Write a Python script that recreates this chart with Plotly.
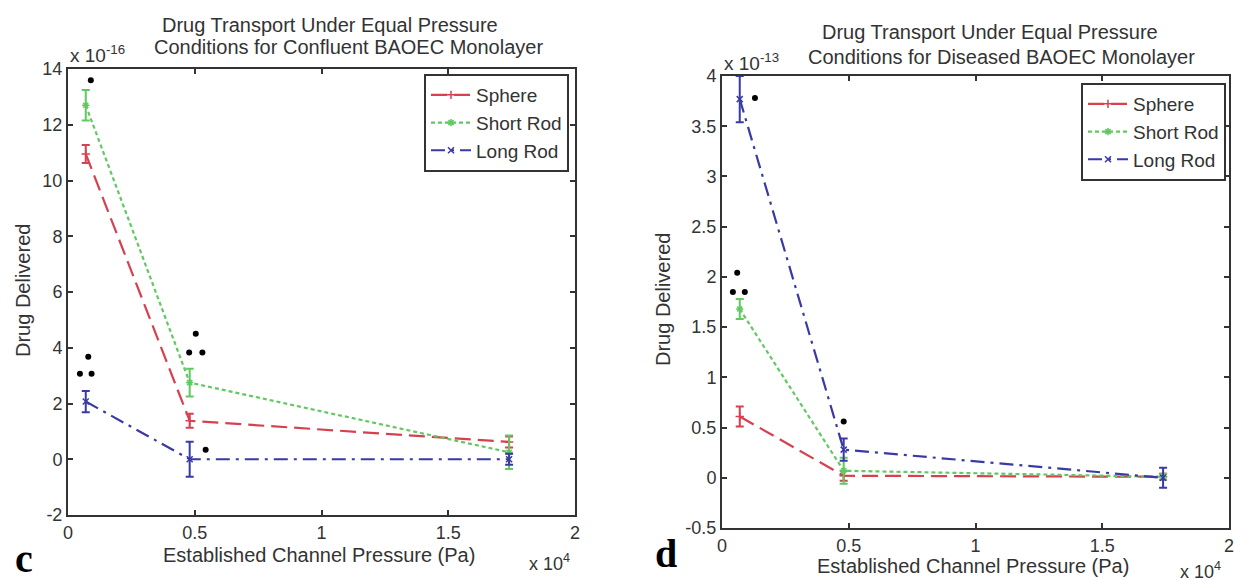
import plotly.graph_objects as go

# pressure (x 10^4 Pa)
pressure = [0.07, 0.48, 1.74]

# confluent monolayer, drug delivered (x 10^-16)
conf_sphere = [10.95, 1.38, 0.62]
conf_sphere_err = [0.32, 0.25, 0.2]
conf_short = [12.7, 2.75, 0.25]
conf_short_err = [0.55, 0.5, 0.6]
conf_long = [2.07, 0.0, 0.0]
conf_long_err = [0.38, 0.63, 0.2]

# diseased monolayer, drug delivered (x 10^-13)
dis_sphere = [0.61, 0.02, 0.01]
dis_sphere_err = [0.1, 0.05, 0.03]
dis_short = [1.68, 0.07, 0.01]
dis_short_err = [0.1, 0.13, 0.03]
dis_long = [3.77, 0.28, 0.0]
dis_long_err = [0.23, 0.11, 0.1]

# significance marks (asterisks)
sig_conf_x = [0.09, 0.047, 0.093, 0.08, 0.478, 0.53, 0.504, 0.543]
sig_conf_y = [13.6, 3.07, 3.07, 3.68, 3.83, 3.83, 4.5, 0.34]
sig_dis_x = [0.13, 0.043, 0.09, 0.06, 0.48]
sig_dis_y = [3.78, 1.85, 1.85, 2.04, 0.56]

x_ticks = [0, 0.5, 1, 1.5, 2]
x_ticktext = ["0", "0.5", "1", "1.5", "2"]
conf_yticks = [-2, 0, 2, 4, 6, 8, 10, 12, 14]
conf_yticktext = ["-2", "0", "2", "4", "6", "8", "10", "12", "14"]
dis_yticks = [-0.5, 0, 0.5, 1, 1.5, 2, 2.5, 3, 3.5, 4]
dis_yticktext = ["-0.5", "0", "0.5", "1", "1.5", "2", "2.5", "3", "3.5", "4"]

COLORS = {"Sphere": "#d6404f", "Short Rod": "#62c862", "Long Rod": "#3a3aa6"}
DASH = {"Sphere": "16px,7px", "Short Rod": "4px,3px", "Long Rod": "14px,6px,3px,6px"}
SYMBOL = {"Sphere": "cross-thin-open", "Short Rod": "asterisk-open", "Long Rod": "x-thin-open"}
FONT = "Liberation Sans, Arial, sans-serif"
INK = "#333333"
W, H = 1235, 579

fig = go.Figure()


def add_series(name, y, err, xa, ya, legend):
    fig.add_trace(go.Scatter(
        name=name, x=pressure, y=y,
        mode="lines+markers",
        line=dict(color=COLORS[name], width=2.2, dash=DASH[name]),
        marker=dict(symbol=SYMBOL[name], size=6, color=COLORS[name],
                    line=dict(color=COLORS[name], width=1.5)),
        error_y=dict(type="data", array=err, color=COLORS[name], thickness=2, width=4),
        xaxis=xa, yaxis=ya, legend=legend,
    ))


add_series("Sphere", conf_sphere, conf_sphere_err, "x", "y", "legend")
add_series("Short Rod", conf_short, conf_short_err, "x", "y", "legend")
add_series("Long Rod", conf_long, conf_long_err, "x", "y", "legend")
add_series("Sphere", dis_sphere, dis_sphere_err, "x2", "y2", "legend2")
add_series("Short Rod", dis_short, dis_short_err, "x2", "y2", "legend2")
add_series("Long Rod", dis_long, dis_long_err, "x2", "y2", "legend2")

fig.add_trace(go.Scatter(x=sig_conf_x, y=sig_conf_y, mode="markers", showlegend=False,
                         marker=dict(color="black", size=6), xaxis="x", yaxis="y"))
fig.add_trace(go.Scatter(x=sig_dis_x, y=sig_dis_y, mode="markers", showlegend=False,
                         marker=dict(color="black", size=6), xaxis="x2", yaxis="y2"))

axis_style = dict(
    showline=True, linecolor=INK, linewidth=2, mirror="ticks",
    ticks="inside", ticklen=5, tickwidth=1.5, tickcolor=INK,
    showgrid=False, zeroline=False, automargin=False,
    tickfont=dict(family=FONT, size=18, color=INK),
)

legend_style = dict(
    bgcolor="white", bordercolor=INK, borderwidth=2,
    font=dict(family=FONT, size=19, color=INK),
    xanchor="right", yanchor="top", itemwidth=40, tracegroupgap=0,
)


def fx(px):
    return px / W


def fy(px):
    return 1 - px / H


fig.update_layout(
    width=W, height=H,
    plot_bgcolor="white", paper_bgcolor="white",
    margin=dict(l=0, r=0, t=0, b=0, autoexpand=False),
    xaxis=dict(domain=[fx(68), fx(575)], range=[0, 2], tickvals=x_ticks, ticktext=x_ticktext,
               anchor="y", **axis_style),
    yaxis=dict(domain=[fy(515), fy(69)], range=[-2, 14], tickvals=conf_yticks,
               ticktext=conf_yticktext, anchor="x", **axis_style),
    xaxis2=dict(domain=[fx(722), fx(1229)], range=[0, 2], tickvals=x_ticks, ticktext=x_ticktext,
                anchor="y2", **axis_style),
    yaxis2=dict(domain=[fy(528), fy(76)], range=[-0.5, 4], tickvals=dis_yticks,
                ticktext=dis_yticktext, anchor="x2", **axis_style),
    legend=dict(x=fx(569), y=fy(74), **legend_style),
    legend2=dict(x=fx(1226), y=fy(83), **legend_style),
)


def px_note(text, x, y, size=20, xanchor="center", yanchor="middle", **kw):
    fig.add_annotation(text=text, x=fx(x), y=fy(y), xref="paper", yref="paper",
                       xanchor=xanchor, yanchor=yanchor, showarrow=False,
                       font=dict(family=kw.pop("family", FONT), size=size,
                                 color=kw.pop("color", INK)), **kw)


# titles
px_note("Drug Transport Under Equal Pressure", 330, 25)
px_note("Conditions for Confluent BAOEC Monolayer", 348, 47)
px_note("Drug Transport Under Equal Pressure", 990, 32)
px_note("Conditions for Diseased BAOEC Monolayer", 1001, 57)

# axis titles
px_note("Drug Delivered", 23, 291, textangle=-90)
px_note("Drug Delivered", 663, 300, textangle=-90)
px_note("Established Channel Pressure (Pa)", 319, 555)
px_note("Established Channel Pressure (Pa)", 973, 566)

# exponent labels
px_note("x 10<sup>-16</sup>", 68, 54, size=19, xanchor="left")
px_note("x 10<sup>-13</sup>", 722, 62, size=19, xanchor="left")
px_note("x 10<sup>4</sup>", 527, 562, size=18, xanchor="left")
px_note("x 10<sup>4</sup>", 1178, 570, size=18, xanchor="left")

# panel letters
SERIF = "Liberation Serif, Times New Roman, serif"
px_note("<b>c</b>", 24, 558, size=40, family=SERIF, color="black")
px_note("<b>d</b>", 666, 553, size=40, family=SERIF, color="black")

# drop the default page margin so the figure sits at the window's corner
fig.write_html("out.html", config={"displayModeBar": False},
               post_script="document.body.style.margin = '0';")
